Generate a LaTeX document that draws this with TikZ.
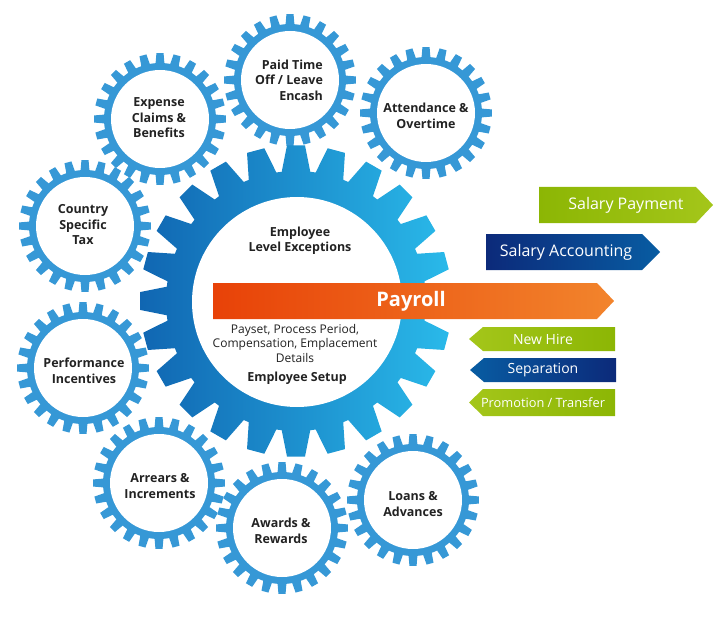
\documentclass[tikz,border=0pt]{standalone}
\usepackage{fontspec}
\setmainfont{Open Sans}
\definecolor{smallblue}{RGB}{54,152,214}
\definecolor{gdark}{RGB}{16,102,178}
\definecolor{glight}{RGB}{42,186,234}
\definecolor{labelgray}{RGB}{34,34,34}
\definecolor{orA}{RGB}{232,66,8}
\definecolor{orB}{RGB}{242,132,44}
\definecolor{grA}{RGB}{140,182,4}
\definecolor{grB}{RGB}{164,198,26}
\definecolor{blA}{RGB}{12,42,122}
\definecolor{blB}{RGB}{8,92,162}
\tikzset{
  gearlabel/.style={text=labelgray, font=\fontsize{12.5bp}{15.5bp}\selectfont\bfseries, align=center, inner sep=0pt},
  geartext/.style={text=labelgray, font=\fontsize{12bp}{14.5bp}\selectfont, align=center, inner sep=0pt},
  arrowtext/.style={text=white, inner sep=0pt},
}
\newcommand\smallgearat[2]{%
  \begin{scope}[shift={(#1,#2)}]
    \fill[smallblue] (-7.5:56) \foreach \a in {0,15,...,345} { -- ({\a-4.5}:56) -- ({\a-3.1}:66) -- ({\a+3.1}:66) -- ({\a+4.5}:56) -- ({\a+7.5}:56)} -- cycle;
    \fill[white] (0,0) circle (49);
  \end{scope}}
\begin{document}
\begin{tikzpicture}[x=1bp,y=-1bp]
\useasboundingbox (0,0) rectangle (728,629);
% small gears
\smallgearat{290}{80}
\smallgearat{426}{113}
\smallgearat{160}{119}
\smallgearat{85}{226}
\smallgearat{83}{368}
\smallgearat{159}{483}
\smallgearat{282}{528}
\smallgearat{413}{500}
% main gear
\begin{scope}[shift={(296,301)}]
  \shade[left color=gdark, right color=glight] (-7.5:130) \foreach \a in {0,15,...,345} { -- ({\a-6.3}:130) -- ({\a-3.3}:156) -- ({\a+3.3}:156) -- ({\a+6.3}:130) -- ({\a+7.5}:130)} -- cycle;
  \fill[white] (1,1) circle (105);
\end{scope}
% labels of small gears
\node[gearlabel, align=right] (pto) at (289,80) {Paid Time\\Off / Leave\\Encash};
\node[gearlabel] (att) at (426,116) {Attendance \&\\Overtime};
\node[gearlabel] (exp) at (159,118) {Expense\\Claims \&\\Benefits};
\node[gearlabel] (cst) at (83,225) {Country\\Specific\\Tax};
\node[gearlabel] (perf) at (84,371) {Performance\\Incentives};
\node[gearlabel] (arr) at (160,486) {Arrears \&\\Increments};
\node[gearlabel] (awd) at (281,531) {Awards \&\\Rewards};
\node[gearlabel] (loan) at (413,504) {Loans \&\\Advances};
% main gear texts
\node[gearlabel] (ele) at (300,241) {Employee\\Level Exceptions};
\node[geartext] (pay) at (295,343) {Payset, Process Period,\\Compensation, Emplacement\\Details};
\node[gearlabel] (esu) at (297,378) {Employee Setup};
% payroll arrow
\shade[left color=orA, right color=orB] (213,283) -- (597,283) -- (614,301) -- (597,319) -- (213,319) -- cycle;
\node[arrowtext, font=\fontsize{20bp}{24bp}\selectfont\bfseries] (payroll) at (411,301) {Payroll};
% right arrows
\shade[left color=grA, right color=grB] (539,187) -- (696,187) -- (713,205) -- (696,223) -- (539,223) -- cycle;
\node[arrowtext, font=\fontsize{16bp}{19bp}\selectfont] (sp) at (626,205) {Salary Payment};
\shade[left color=blA, right color=blB] (486,234) -- (642,234) -- (660,252) -- (642,270) -- (486,270) -- cycle;
\node[arrowtext, font=\fontsize{16bp}{19bp}\selectfont] (sa) at (566,252) {Salary Accounting};
\shade[left color=grB, right color=grA] (469,339) -- (483,327) -- (615,327) -- (615,351) -- (483,351) -- cycle;
\node[arrowtext, font=\fontsize{14bp}{17bp}\selectfont] (nh) at (543,339) {New Hire};
\shade[left color=blB, right color=blA] (470,370) -- (484,358) -- (616,358) -- (616,382) -- (484,382) -- cycle;
\node[arrowtext, font=\fontsize{14bp}{17bp}\selectfont] (sep) at (543,370) {Separation};
\shade[left color=grB, right color=grA] (469,402.5) -- (483,389) -- (615,389) -- (615,416) -- (483,416) -- cycle;
\node[arrowtext, font=\fontsize{12.8bp}{15bp}\selectfont] (pt) at (543,403) {Promotion / Transfer};
\end{tikzpicture}
\end{document}
